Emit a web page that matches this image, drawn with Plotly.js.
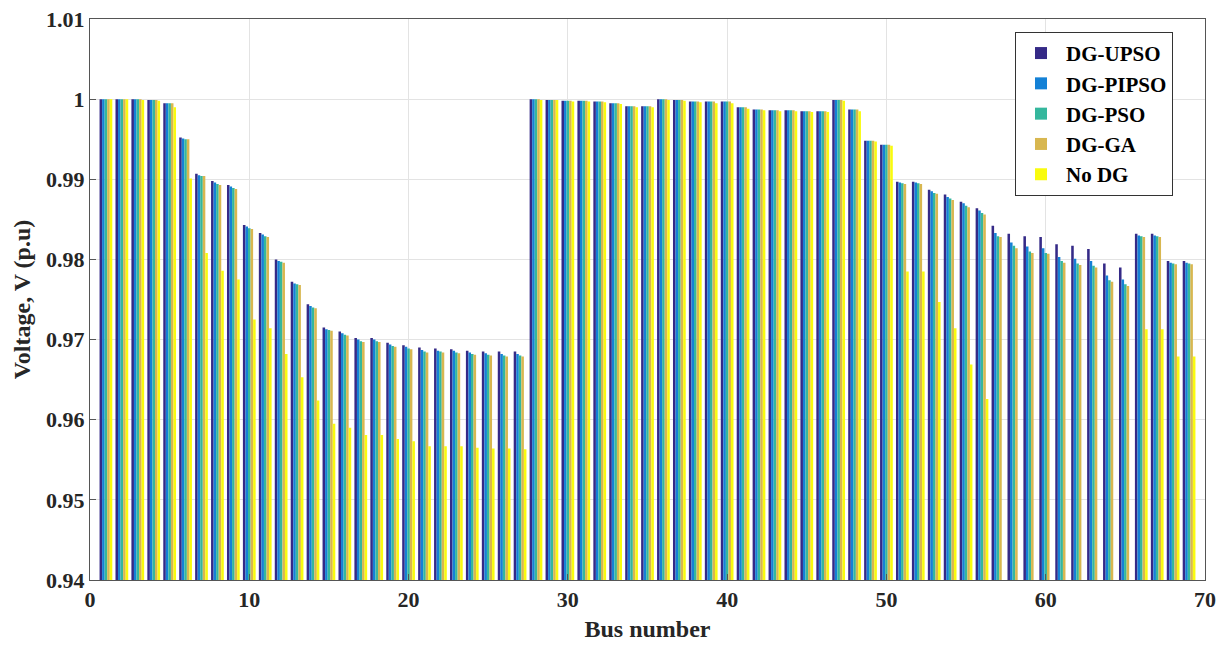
<!DOCTYPE html>
<html>
<head>
<meta charset="utf-8">
<script src="https://cdn.plot.ly/plotly-3.0.1.min.js"></script>
<style>html,body{margin:0;padding:0;background:#fff;}#chart{width:1219px;height:645px;}</style>
</head>
<body>
<div id="chart"></div>
<script>
// Bus numbers 1..69
const buses = [1,2,3,4,5,6,7,8,9,10,11,12,13,14,15,16,17,18,19,20,21,22,23,24,25,26,27,28,29,30,31,32,33,34,35,36,37,38,39,40,41,42,43,44,45,46,47,48,49,50,51,52,53,54,55,56,57,58,59,60,61,62,63,64,65,66,67,68,69];

const seriesNames = ["DG-UPSO", "DG-PIPSO", "DG-PSO", "DG-GA", "No DG"];

const dgUPSO = [1.0000,1.0000,1.0000,0.9999,0.9995,0.9952,0.9907,0.9898,0.9893,0.9843,0.9833,0.9800,0.9772,0.9744,0.9715,0.9710,0.9702,0.9702,0.9696,0.9693,0.9690,0.9689,0.9688,0.9686,0.9685,0.9685,0.9685,
1.0000,0.9999,0.9998,0.9998,0.9997,0.9995,0.9991,0.9991,1.0000,0.9999,0.9997,0.9997,0.9997,0.9990,0.9987,0.9986,0.9986,0.9985,0.9985,0.9999,0.9987,0.9948,0.9943,
0.9897,0.9897,0.9887,0.9881,0.9872,0.9864,0.9842,0.9832,0.9829,0.9828,0.9819,0.9817,0.9813,0.9795,0.9790,0.9832,0.9832,0.9798,0.9798];

const dgPIPSO = [1.0000,1.0000,1.0000,0.9999,0.9995,0.9951,0.9905,0.9896,0.9891,0.9841,0.9831,0.9798,0.9770,0.9742,0.9713,0.9708,0.9700,0.9700,0.9694,0.9691,0.9687,0.9686,0.9686,0.9684,0.9683,0.9682,0.9682,
1.0000,0.9999,0.9998,0.9998,0.9997,0.9995,0.9991,0.9991,1.0000,0.9999,0.9997,0.9997,0.9997,0.9990,0.9987,0.9986,0.9986,0.9985,0.9985,0.9999,0.9987,0.9948,0.9943,
0.9896,0.9896,0.9885,0.9878,0.9870,0.9861,0.9833,0.9821,0.9816,0.9814,0.9803,0.9801,0.9798,0.9780,0.9775,0.9830,0.9830,0.9796,0.9796];

const dgPSO = [1.0000,1.0000,1.0000,0.9999,0.9995,0.9950,0.9904,0.9894,0.9889,0.9839,0.9829,0.9797,0.9769,0.9740,0.9712,0.9706,0.9698,0.9698,0.9692,0.9689,0.9685,0.9685,0.9684,0.9682,0.9681,0.9680,0.9680,
1.0000,0.9999,0.9998,0.9998,0.9997,0.9995,0.9991,0.9991,1.0000,0.9999,0.9997,0.9997,0.9997,0.9990,0.9987,0.9986,0.9986,0.9985,0.9985,0.9999,0.9987,0.9948,0.9943,
0.9895,0.9895,0.9883,0.9876,0.9867,0.9858,0.9829,0.9817,0.9810,0.9808,0.9798,0.9795,0.9792,0.9774,0.9769,0.9829,0.9829,0.9795,0.9795];

const dgGA = [1.0000,1.0000,1.0000,0.9999,0.9995,0.9950,0.9904,0.9893,0.9888,0.9838,0.9828,0.9796,0.9768,0.9739,0.9711,0.9705,0.9697,0.9697,0.9691,0.9688,0.9684,0.9684,0.9683,0.9681,0.9680,0.9679,0.9679,
1.0000,0.9999,0.9998,0.9998,0.9997,0.9995,0.9991,0.9991,1.0000,0.9999,0.9997,0.9997,0.9997,0.9990,0.9987,0.9986,0.9986,0.9985,0.9985,0.9999,0.9987,0.9948,0.9943,
0.9894,0.9894,0.9882,0.9874,0.9865,0.9856,0.9828,0.9814,0.9808,0.9807,0.9796,0.9793,0.9790,0.9772,0.9767,0.9828,0.9828,0.9794,0.9794];

const noDG = [1.0000,1.0000,0.9999,0.9998,0.9990,0.9901,0.9808,0.9786,0.9775,0.9725,0.9714,0.9682,0.9653,0.9624,0.9595,0.9590,0.9581,0.9581,0.9576,0.9573,0.9567,0.9567,0.9567,0.9565,0.9564,0.9564,0.9563,
0.9999,0.9999,0.9997,0.9997,0.9996,0.9994,0.9990,0.9990,0.9999,0.9998,0.9996,0.9995,0.9995,0.9988,0.9986,0.9985,0.9985,0.9984,0.9984,0.9998,0.9985,0.9947,0.9942,
0.9785,0.9785,0.9747,0.9714,0.9669,0.9626,0.9400,0.9290,0.9248,0.9197,0.9123,0.9121,0.9117,0.9099,0.9092,0.9713,0.9713,0.9679,0.9679];

const yTickVals = [0.94,0.95,0.96,0.97,0.98,0.99,1.00,1.01];
const yTickText = ["0.94","0.95","0.96","0.97","0.98","0.99","1","1.01"];
const xTickVals = [0,10,20,30,40,50,60,70];

const colors = ["#352a87","#1481d6","#35b79d","#d8b750","#f9fb0e"];
const allSeries = [dgUPSO, dgPIPSO, dgPSO, dgGA, noDG];

const traces = allSeries.map((vals, i) => ({
  type: "bar",
  name: seriesNames[i],
  x: buses,
  y: vals,
  marker: {color: colors[i], line: {width: 0}}
}));

const fontFam = "Liberation Serif, Times New Roman, serif";

const layout = {
  width: 1219,
  height: 645,
  margin: {l: 90, r: 14, t: 19, b: 65},
  paper_bgcolor: "#ffffff",
  plot_bgcolor: "#ffffff",
  barmode: "group",
  bargap: 0.2,
  bargroupgap: 0,
  showlegend: true,
  font: {family: fontFam, color: "#262626"},
  xaxis: {
    range: [0, 70],
    tickvals: xTickVals,
    ticks: "inside",
    ticklen: 6,
    tickcolor: "#555",
    showgrid: true,
    gridcolor: "#e3e3e3",
    gridwidth: 1,
    zeroline: false,
    showline: true,
    mirror: true,
    linecolor: "#555",
    linewidth: 1,
    tickfont: {family: fontFam, size: 22, color: "#262626", weight: "bold"},
    title: {text: "<b>Bus number</b>", font: {family: fontFam, size: 24, color: "#262626"}, standoff: 8}
  },
  yaxis: {
    range: [0.94, 1.01],
    tickvals: yTickVals,
    ticktext: yTickText,
    ticks: "inside",
    ticklen: 6,
    tickcolor: "#555",
    showgrid: true,
    gridcolor: "#e3e3e3",
    gridwidth: 1,
    zeroline: false,
    showline: true,
    mirror: true,
    linecolor: "#555",
    linewidth: 1,
    tickfont: {family: fontFam, size: 22, color: "#262626", weight: "bold"},
    title: {text: "<b>Voltage, V (p.u)</b>", font: {family: fontFam, size: 24, color: "#262626"}, standoff: 8}
  },
  legend: {
    x: 0.8296,
    y: 0.977,
    xanchor: "left",
    yanchor: "top",
    bgcolor: "#ffffff",
    bordercolor: "#333",
    borderwidth: 1,
    font: {family: fontFam, size: 21, color: "#000", weight: "bold"},
    itemwidth: 40,
    tracegroupgap: 0
  }
};

Plotly.newPlot("chart", traces, layout, {displayModeBar: false, staticPlot: true});
</script>
</body>
</html>
